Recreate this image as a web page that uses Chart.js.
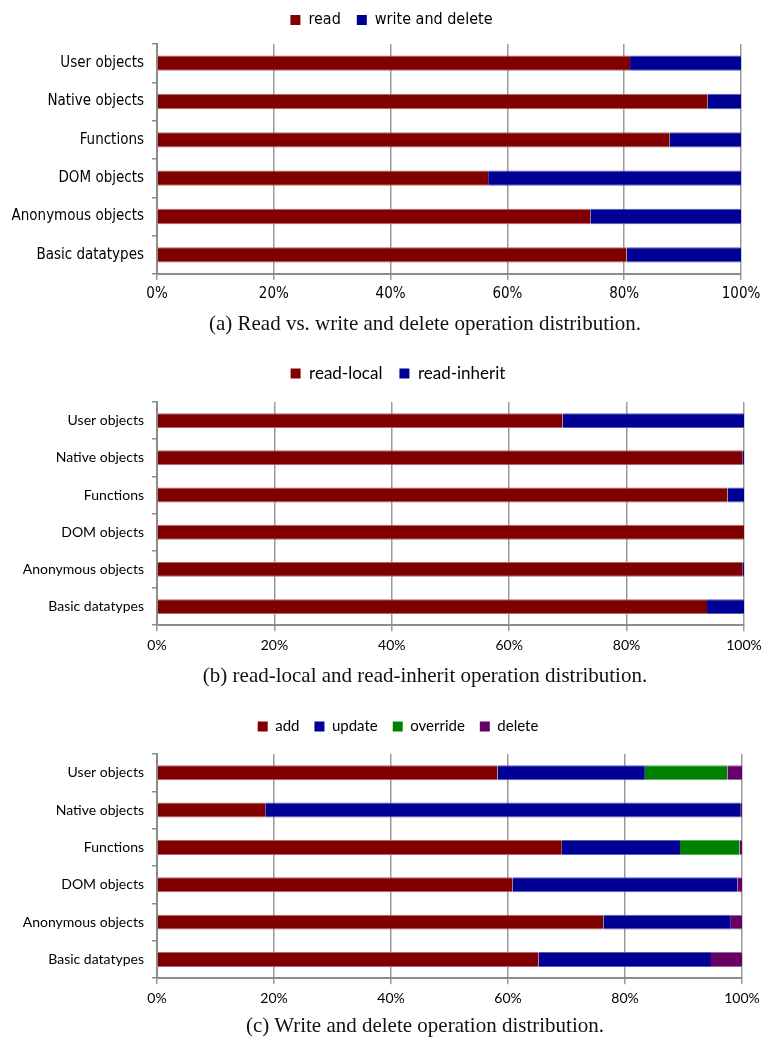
<!DOCTYPE html>
<html>
<head>
<meta charset="utf-8">
<script src="https://cdn.jsdelivr.net/npm/chart.js@4/dist/chart.umd.min.js"></script>
<style>
  html,body{margin:0;padding:0;background:#fff;}
  body{width:763px;height:1037px;position:relative;overflow:hidden;}
  .wrap{position:absolute;left:0;width:763px;}
  .cap{position:absolute;left:0;width:850px;text-align:center;font-family:'Liberation Serif','DejaVu Serif',serif;font-size:21px;line-height:24px;color:#111;white-space:nowrap;}
</style>
</head>
<body>
<div class="wrap" style="top:-4px;height:324px;"><canvas id="ca"></canvas></div>
<div class="cap" style="top:311px;">(a) Read vs. write and delete operation distribution.</div>
<div class="wrap" style="top:350px;height:318px;"><canvas id="cb"></canvas></div>
<div class="cap" style="top:663px;">(b) read-local and read-inherit operation distribution.</div>
<div class="wrap" style="top:700px;height:321px;"><canvas id="cc"></canvas></div>
<div class="cap" style="top:1013px;">(c) Write and delete operation distribution.</div>
<script>
const categories = ["User objects","Native objects","Functions","DOM objects","Anonymous objects","Basic datatypes"];
const tickValues = [0,20,40,60,80,100];

// (a)
const readA = [81.0, 94.3, 87.8, 56.7, 74.2, 80.4];
const writeDeleteA = [19.0, 5.7, 12.2, 43.3, 25.8, 19.6];
// (b)
const readLocalB = [69.1, 99.8, 97.2, 100, 99.8, 93.7];
const readInheritB = [30.9, 0.2, 2.8, 0, 0.2, 6.3];
// (c)
const addC = [58.2, 18.5, 69.2, 60.8, 76.3, 65.2];
const updateC = [25.2, 81.3, 20.2, 38.4, 21.8, 29.5];
const overrideC = [14.1, 0, 10.2, 0, 0, 0];
const deleteC = [2.5, 0.2, 0.4, 0.8, 1.9, 5.3];

const RED = '#800000', BLUE = '#000094', GREEN = '#008000', PURPLE = '#660066';
const EDGE = {'#800000': '#b06a6a', '#000094': '#5a5ab8', '#008000': '#5aa85a', '#660066': '#9a6a9a'};

function makeChart(id, datasets, o){
  const ctx = document.getElementById(id);
  const legendShift = {
    id: 'legendShift',
    afterLayout(chart){
      const l = chart.legend;
      if (!l) return;
      l.left += o.dx; l.right += o.dx;
      l.top += o.dy; l.bottom += o.dy;
    }
  };
  return new Chart(ctx, {
    type: 'bar',
    data: {
      labels: categories,
      datasets: datasets.map(d => ({
        label: d.label, data: d.data, backgroundColor: d.color,
        borderColor: EDGE[d.color],
        borderWidth: {top: 1, bottom: 1, left: 0, right: 0},
        borderSkipped: false,
        barPercentage: 0.4, categoryPercentage: 1.0
      }))
    },
    plugins: [legendShift],
    options: {
      indexAxis: 'y',
      responsive: true,
      maintainAspectRatio: false,
      animation: false,
      devicePixelRatio: 1,
      layout: {padding: {top: o.padTop, bottom: o.padBottom, left: 0, right: o.right}},
      plugins: {
        legend: {
          position: 'top',
          labels: {boxWidth: 10, boxHeight: 10, padding: o.legPad, color: '#000',
                   font: {family: o.font, size: o.legSize},
                   generateLabels: chart => chart.data.datasets.map((ds, i) => ({
                     text: ds.label, fillStyle: ds.backgroundColor, strokeStyle: ds.backgroundColor,
                     lineWidth: 0, hidden: false, datasetIndex: i, fontColor: '#000'
                   }))}
        },
        tooltip: {enabled: false}
      },
      scales: {
        x: {
          stacked: true, min: 0, max: 100,
          afterBuildTicks: s => { s.ticks = tickValues.map(v => ({value: v})); },
          afterFit: s => { s.paddingLeft = 0; s.paddingRight = 0; },
          ticks: {callback: v => v + '%', color: '#000', padding: o.xPad, maxRotation: 0,
                  font: {family: o.font, size: o.size}},
          grid: {color: '#9a9a9a', lineWidth: 1.5, tickLength: 6, drawOnChartArea: true},
          border: {color: '#8c8c8c', width: 2}
        },
        y: {
          stacked: true,
          afterFit: s => { s.width = 157; },
          ticks: {color: '#000', padding: 8, font: {family: o.font, size: o.size}},
          grid: {offset: true, drawOnChartArea: false, color: '#8c8c8c', lineWidth: 1.5, tickLength: 5},
          border: {color: '#8c8c8c', width: 2}
        }
      }
    }
  });
}

const fontA = "'Liberation Sans Narrow','DejaVu Sans Condensed','Liberation Sans',sans-serif";
const fontBC = "Lato,'Open Sans',sans-serif";

makeChart('ca', [
  {label: 'read', data: readA, color: RED},
  {label: 'write and delete', data: writeDeleteA, color: BLUE}
], {font: fontA, size: 15, legSize: 16, legPad: 16, padTop: 6, padBottom: 12, xPad: 5, right: 22, dx: 21, dy: -6});

makeChart('cb', [
  {label: 'read-local', data: readLocalB, color: RED},
  {label: 'read-inherit', data: readInheritB, color: BLUE}
], {font: fontBC, size: 14, legSize: 17, legPad: 17, padTop: 8, padBottom: 8, xPad: 6, right: 19, dx: 26, dy: -10});

makeChart('cc', [
  {label: 'add', data: addC, color: RED},
  {label: 'update', data: updateC, color: BLUE},
  {label: 'override', data: overrideC, color: GREEN},
  {label: 'delete', data: deleteC, color: PURPLE}
], {font: fontBC, size: 14, legSize: 15, legPad: 15, padTop: 14, padBottom: 8, xPad: 6, right: 21, dx: 27, dy: -10});
</script>
</body>
</html>
